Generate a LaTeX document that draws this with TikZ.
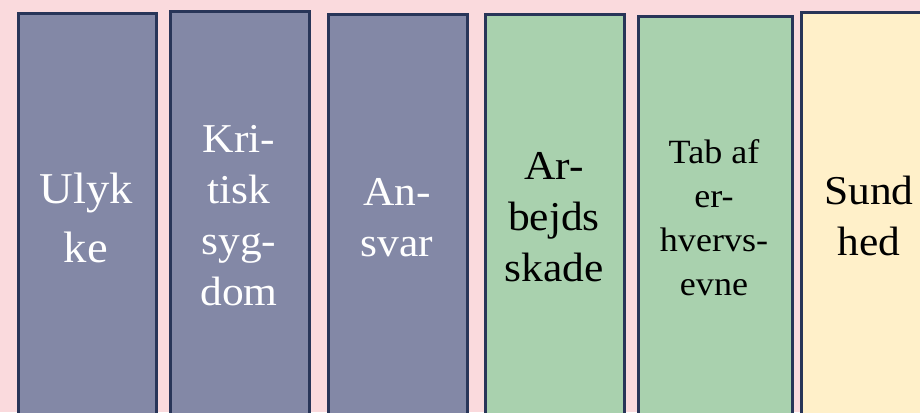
\documentclass[tikz,border=0pt]{standalone}
\usepackage{fontspec}
\setmainfont[FakeStretch=1.06]{Liberation Serif}
\usetikzlibrary{positioning}
\definecolor{bgpink}{HTML}{FADADD}
\definecolor{boxline}{HTML}{283558}
\definecolor{slate}{HTML}{8388A6}
\definecolor{sage}{HTML}{A9D1AE}
\definecolor{cream}{HTML}{FFF0C9}

\begin{document}
\begin{tikzpicture}[x=1pt,y=-1pt]
	\tikzstyle{column} = [rectangle, draw=boxline, line width=2.6pt, minimum height=430pt, anchor=north west, inner sep=0pt]
	\tikzstyle{risk} = [column, fill=slate]
	\tikzstyle{work} = [column, fill=sage]
	\tikzstyle{health} = [column, fill=cream]
	\tikzstyle{word} = [align=center, anchor=base, inner sep=0pt]
	\tikzstyle{big} = [word, font=\fontsize{44}{59}\selectfont]
	\tikzstyle{mid} = [word, font=\fontsize{41}{51}\selectfont]
	\tikzstyle{small} = [word, font=\fontsize{34}{44}\selectfont]

	\fill[bgpink] (0,0) rectangle (920,412);
	\useasboundingbox (0,0) rectangle (920,412);
	\clip (0,0) rectangle (920,412);

	% columns
	\node[risk, minimum width=138pt]   (ulykke)  at (17,12)  {};
	\node[risk, minimum width=139pt]   (kritisk) at (169,10) {};
	\node[risk, minimum width=139pt]   (ansvar)  at (327,13) {};
	\node[work, minimum width=139pt]   (arbejd)  at (484,13) {};
	\node[work, minimum width=154pt]   (erhverv) at (637,15) {};
	\node[health, minimum width=138pt] (sund)    at (800,11) {};

	% labels (anchored at the last line)
	\node[big, text=white]  (ulykke text)  at (86,262)  {Ulyk\\ke};
	\node[mid, text=white]  (kritisk text) at (239,305) {Kri-\\tisk\\syg-\\dom};
	\node[mid, text=white]  (ansvar text)  at (397,256) {An-\\svar};
	\node[mid]              (arbejd text)  at (554,281) {Ar-\\bejds\\skade};
	\node[small]            (erhverv text) at (714,295) {Tab af\\er-\\hvervs-\\evne};
	\node[mid]              (sund text)    at (869,255) {Sund\\hed};

\end{tikzpicture}
\end{document}
